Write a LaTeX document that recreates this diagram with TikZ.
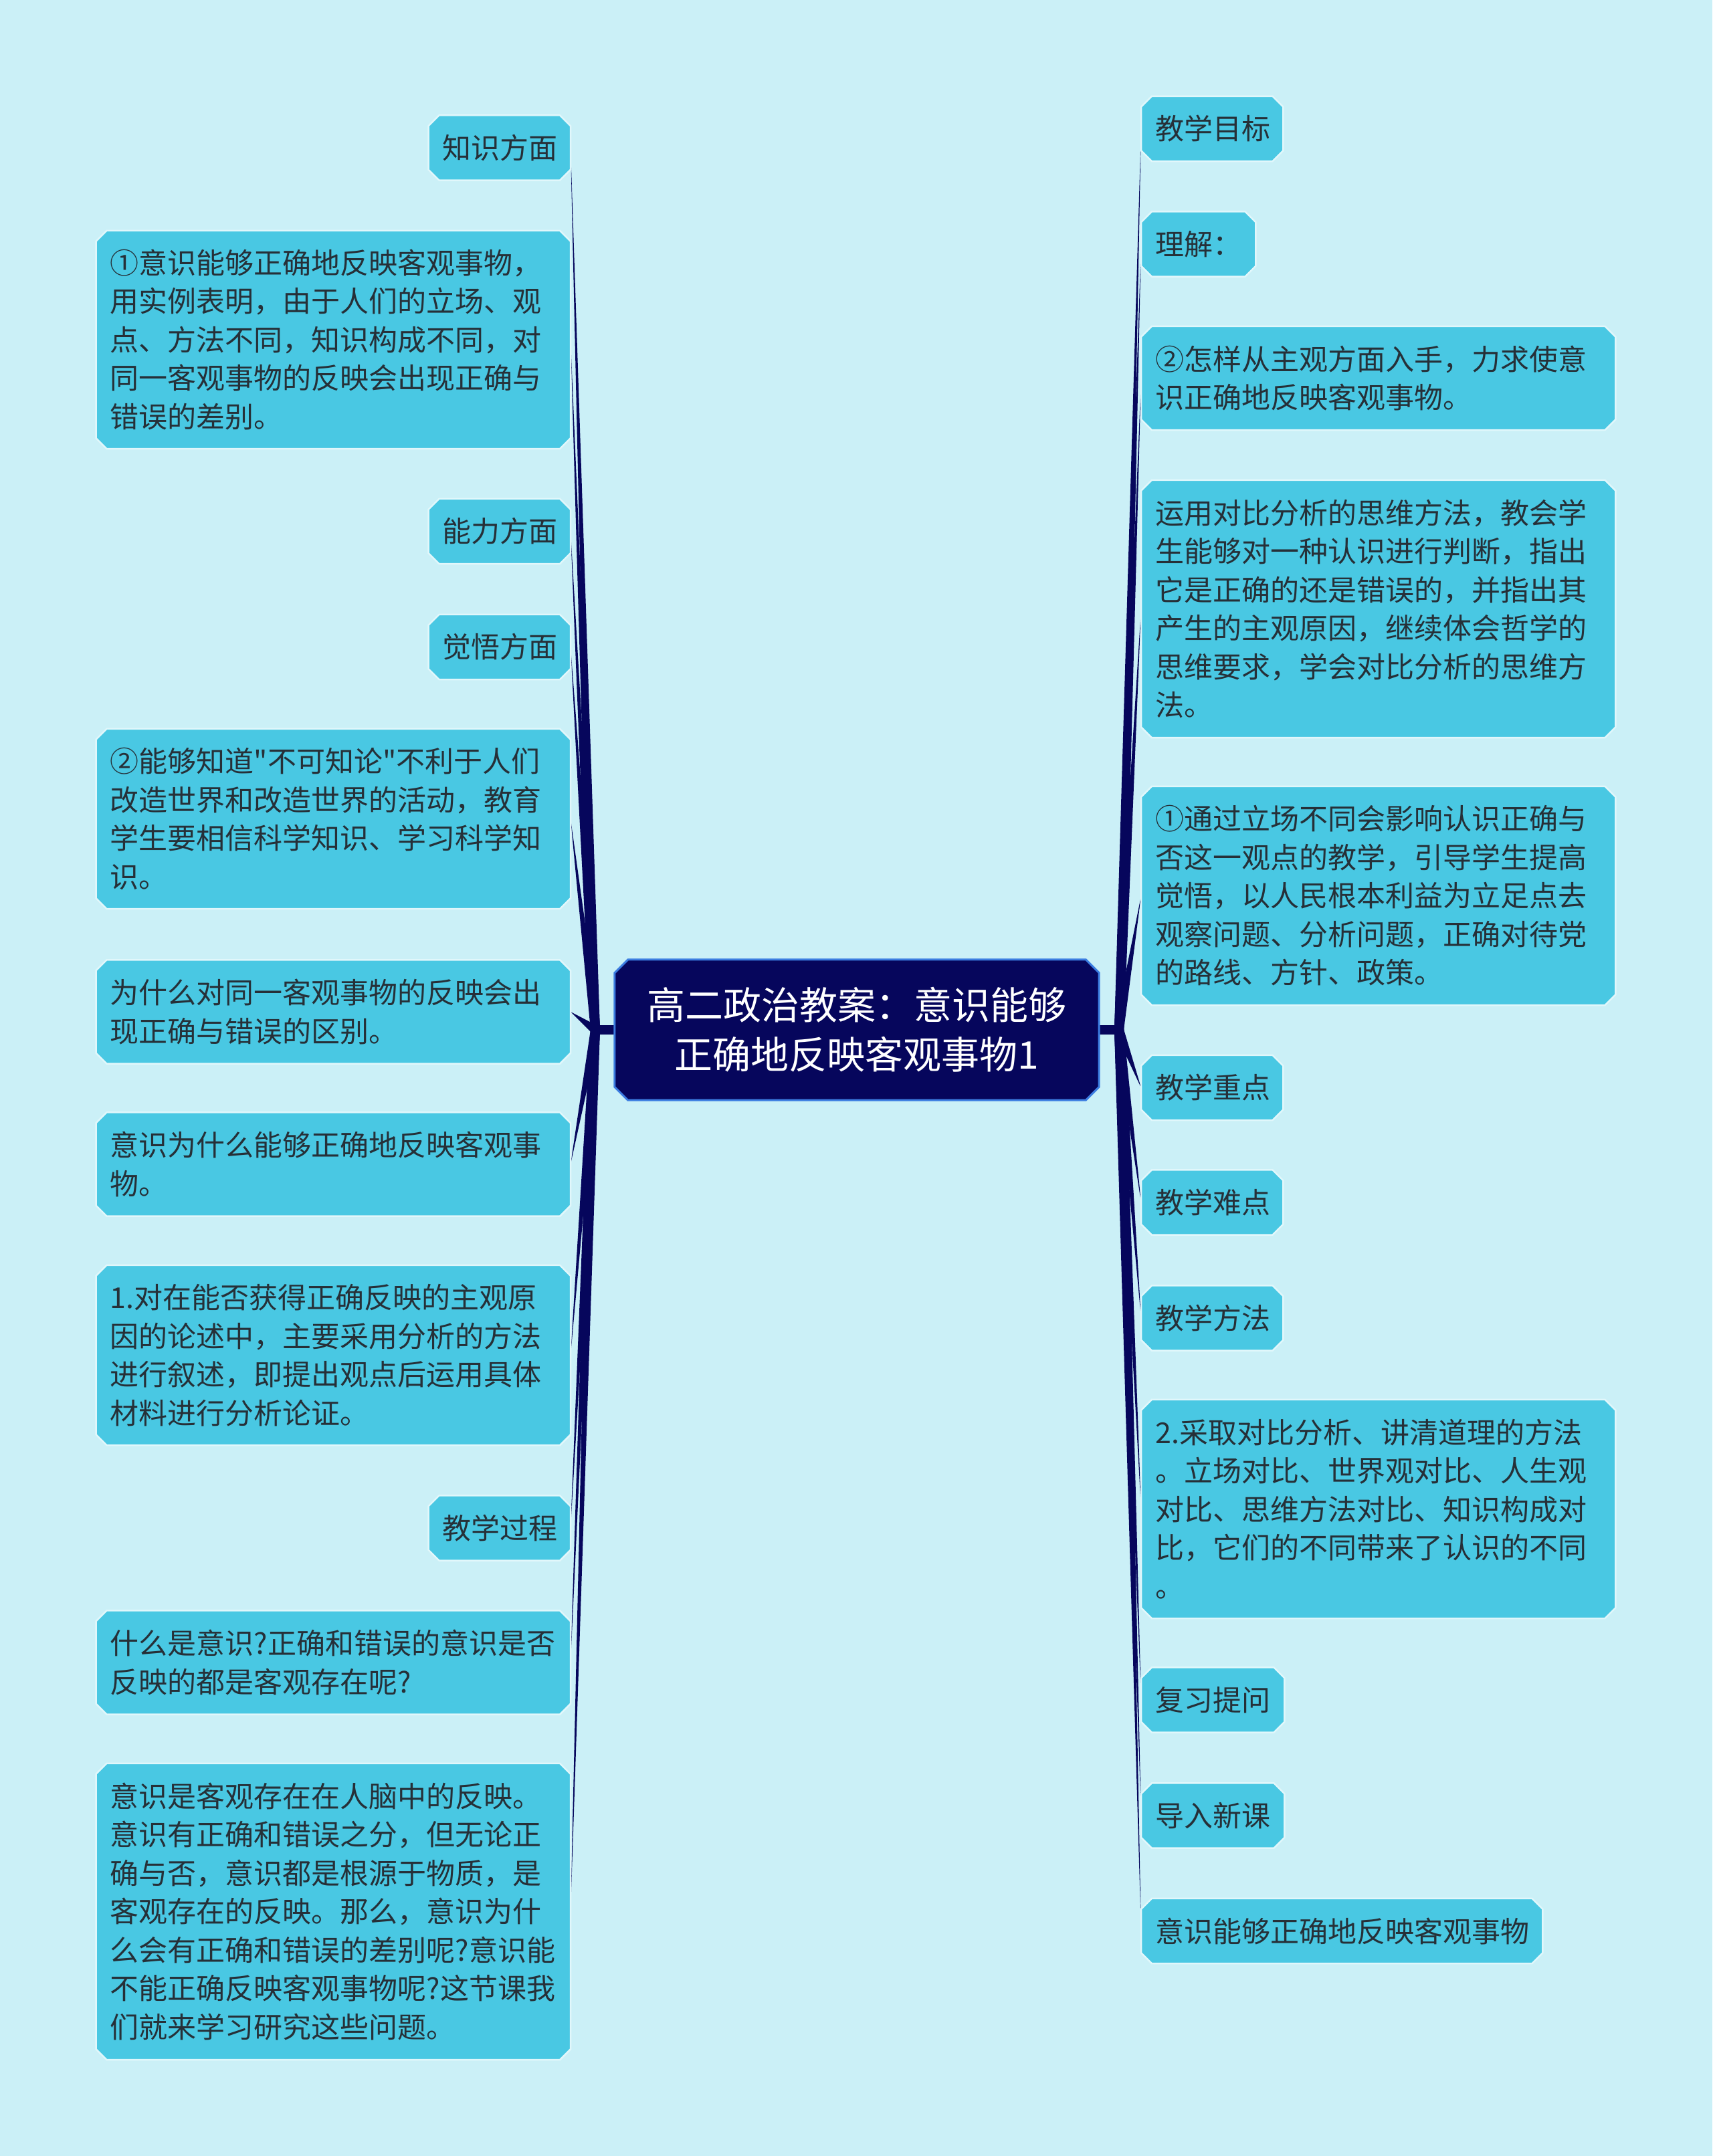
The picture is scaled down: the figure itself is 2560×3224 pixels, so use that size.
\documentclass[tikz,border=0pt]{standalone}
\usepackage{fontspec}
\setmainfont{Noto Sans CJK SC}[Ligatures=TeXOff]
\usetikzlibrary{calc}
\definecolor{bgc}{RGB}{203,240,247}
\definecolor{boxc}{RGB}{73,200,227}
\definecolor{boxline}{RGB}{225,247,251}
\definecolor{navy}{RGB}{6,6,92}
\definecolor{cborder}{RGB}{60,125,225}
\definecolor{txt}{RGB}{38,48,56}
\pgfdeclarelayer{bgl}
\pgfdeclarelayer{boxes}
\pgfsetlayers{bgl,boxes,main}
\newcommand\conwedge[2]{\fill[navy] ($(#1)!7pt!90:(#2)$) -- (#2) -- ($(#1)!7pt!-90:(#2)$) -- cycle;}
\newcommand\chambox[3]{\filldraw[#3] ($(#1.north west)+(#2,0)$) -- ($(#1.north east)+(-#2,0)$) -- ($(#1.north east)+(0,#2)$) -- ($(#1.south east)+(0,-#2)$) -- ($(#1.south east)+(-#2,0)$) -- ($(#1.south west)+(#2,0)$) -- ($(#1.south west)+(0,-#2)$) -- ($(#1.north west)+(0,#2)$) -- cycle;}
\tikzset{
  leaf/.style={shape=rectangle, inner xsep=21pt, inner ysep=0pt, align=left, text=txt, font=\fontsize{43}{57.5}\selectfont},
  lnode/.style={leaf, anchor=east},
  rnode/.style={leaf, anchor=west},
  boxsty/.style={fill=boxc, draw=boxline, line width=2.5pt},
  censty/.style={fill=navy, draw=cborder, line width=3pt},
  stub/.style={draw=navy, line width=14pt},
}
\begin{document}
\begin{tikzpicture}[x=1pt,y=-1pt]
\path[use as bounding box] (0,0) rectangle (2560,3224);
\begin{pgfonlayer}{bgl}
\fill[bgc] (0,0) rectangle (2560,3224);
\end{pgfonlayer}

% center
\node[shape=rectangle, minimum width=724pt, minimum height=210pt, align=center, text=white, font=\fontsize{57}{74}\selectfont] (C) at (1281,1540) {高二政治教案：意识能够\\正确地反映客观事物1};
\coordinate (JL) at (890,1540);
\coordinate (JR) at (1673,1540);

% left nodes
\node[lnode, text width=170pt, minimum height=97pt] (L1) at (853,221) {知识方面};
\node[lnode, text width=667pt, minimum height=326pt] (L2) at (853,508) {①意识能够正确地反映客观事物，\\用实例表明，由于人们的立场、观\\点、方法不同，知识构成不同，对\\同一客观事物的反映会出现正确与\\错误的差别。};
\node[lnode, text width=170pt, minimum height=97pt] (L3) at (853,794.5) {能力方面};
\node[lnode, text width=170pt, minimum height=97pt] (L4) at (853,967.5) {觉悟方面};
\node[lnode, text width=667pt, minimum height=269pt] (L5) at (853,1224.5) {②能够知道"不可知论"不利于人们\\改造世界和改造世界的活动，教育\\学生要相信科学知识、学习科学知\\识。};
\node[lnode, text width=667pt, minimum height=155pt] (L6) at (853,1513) {为什么对同一客观事物的反映会出\\现正确与错误的区别。};
\node[lnode, text width=667pt, minimum height=155pt] (L7) at (853,1741) {意识为什么能够正确地反映客观事\\物。};
\node[lnode, text width=667pt, minimum height=269pt] (L8) at (853,2026.5) {1.对在能否获得正确反映的主观原\\因的论述中，主要采用分析的方法\\进行叙述，即提出观点后运用具体\\材料进行分析论证。};
\node[lnode, text width=170pt, minimum height=97pt] (L9) at (853,2285) {教学过程};
\node[lnode, text width=667pt, minimum height=155pt] (L10) at (853,2486) {什么是意识?正确和错误的意识是否\\反映的都是客观存在呢?};
\node[lnode, text width=667pt, minimum height=443pt] (L11) at (853,2858.5) {意识是客观存在在人脑中的反映。\\意识有正确和错误之分，但无论正\\确与否，意识都是根源于物质，是\\客观存在的反映。那么，意识为什\\么会有正确和错误的差别呢?意识能\\不能正确反映客观事物呢?这节课我\\们就来学习研究这些问题。};

% right nodes
\node[rnode, text width=170pt, minimum height=97pt] (R1) at (1706,192.5) {教学目标};
\node[rnode, text width=129pt, minimum height=97pt] (R2) at (1706,365) {理解：};
\node[rnode, text width=667pt, minimum height=155pt] (R3) at (1706,565.5) {②怎样从主观方面入手，力求使意\\识正确地反映客观事物。};
\node[rnode, text width=667pt, minimum height=385pt] (R4) at (1706,910.5) {运用对比分析的思维方法，教会学\\生能够对一种认识进行判断，指出\\它是正确的还是错误的，并指出其\\产生的主观原因，继续体会哲学的\\思维要求，学会对比分析的思维方\\法。};
\node[rnode, text width=667pt, minimum height=327pt] (R5) at (1706,1339.5) {①通过立场不同会影响认识正确与\\否这一观点的教学，引导学生提高\\觉悟，以人民根本利益为立足点去\\观察问题、分析问题，正确对待党\\的路线、方针、政策。};
\node[rnode, text width=170pt, minimum height=97pt] (R6) at (1706,1626.5) {教学重点};
\node[rnode, text width=170pt, minimum height=97pt] (R7) at (1706,1798) {教学难点};
\node[rnode, text width=170pt, minimum height=97pt] (R8) at (1706,1971) {教学方法};
\node[rnode, text width=667pt, minimum height=327pt] (R9) at (1706,2256.5) {2.采取对比分析、讲清道理的方法\\。立场对比、世界观对比、人生观\\对比、思维方法对比、知识构成对\\比，它们的不同带来了认识的不同\\。};
\node[rnode, text width=172pt, minimum height=97pt] (R10) at (1706,2542) {复习提问};
\node[rnode, text width=172pt, minimum height=97pt] (R11) at (1706,2715) {导入新课};
\node[rnode, text width=558pt, minimum height=97pt] (R12) at (1706,2887.5) {意识能够正确地反映客观事物};

\begin{pgfonlayer}{boxes}
\draw[stub] (C.west) -- (JL);
\draw[stub] (C.east) -- (JR);
\foreach \nm in {L1,L2,L3,L4,L5,L6,L7,L8,L9,L10,L11} {\conwedge{JL}{\nm.east}}
\foreach \nm in {R1,R2,R3,R4,R5,R6,R7,R8,R9,R10,R11,R12} {\conwedge{JR}{\nm.west}}
\foreach \nm in {L1,L2,L3,L4,L5,L6,L7,L8,L9,L10,L11,R1,R2,R3,R4,R5,R6,R7,R8,R9,R10,R11,R12} {\chambox{\nm}{16}{boxsty}}
\chambox{C}{20}{censty}
\end{pgfonlayer}
\end{tikzpicture}
\end{document}
